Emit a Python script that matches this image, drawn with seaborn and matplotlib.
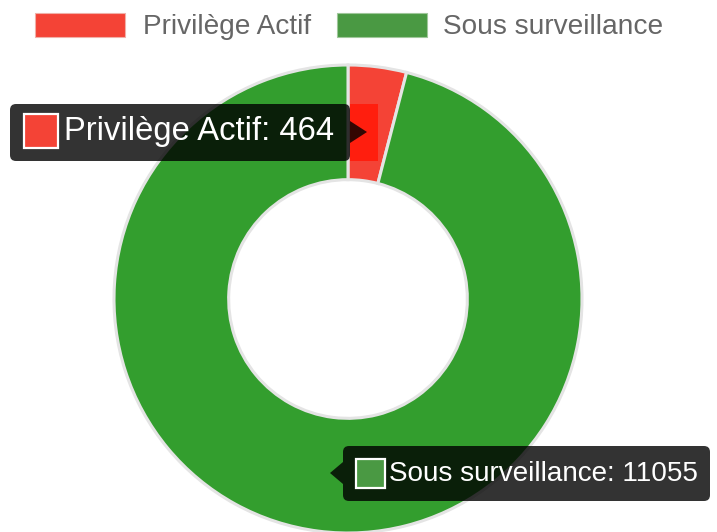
import matplotlib
matplotlib.use("Agg")
import matplotlib.pyplot as plt
import seaborn as sns
from matplotlib.patches import FancyBboxPatch, Rectangle, Polygon

# données du graphique
labels = ["Privilège Actif", "Sous surveillance"]
values = [464, 11055]
slice_colors = ["#f44336", "#339e2e"]
legend_colors = ["#f44336", "#4a9943"]

sns.set_theme(style="white")
plt.rcParams['font.family'] = ['Liberation Sans', 'DejaVu Sans']

W, H = 717, 532
fig = plt.figure(figsize=(W / 100, H / 100), dpi=100)
ax = fig.add_axes([0, 0, 1, 1])

def py(y):
    # pixel (haut -> bas) vers coordonnées des données
    return H - y

# anneau
cx, cy, r = 348, 299, 234
wedges, _ = ax.pie(
    values, colors=slice_colors, startangle=90, counterclock=False,
    center=(cx, py(cy)), radius=r, frame=True,
    wedgeprops=dict(width=r * 0.49, edgecolor='#e4e4e4', linewidth=2.2),
)
ax.set_xlim(0, W)
ax.set_ylim(0, H)
ax.axis('off')

# partie rouge vive visible à droite de l'infobulle (petit axe découpé)
bx0, by0, bx1, by1 = 350, 104, 378, 161
ax_hi = fig.add_axes([bx0 / W, py(by1) / H, (bx1 - bx0) / W, (by1 - by0) / H])
hi, _ = ax_hi.pie(values, colors=['#ff1e0e', 'none'], startangle=90,
                  counterclock=False, center=(cx, py(cy)), radius=r - 1.5,
                  frame=True, wedgeprops=dict(width=r * 0.45, linewidth=0))
for w in hi:
    w.set_clip_on(True)
ax_hi.set_xlim(bx0, bx1)
ax_hi.set_ylim(py(by1), py(by0))
ax_hi.axis('off')

# légende en haut
for x_sw, x_txt, lab, col in zip([35, 337], [143, 443], labels, legend_colors):
    ax.add_patch(Rectangle((x_sw, py(37)), 90, 24, facecolor=col,
                           edgecolor='#f0b0a8' if col == '#f44336' else '#9fc79a', lw=0.8))
    ax.text(x_txt, py(34), lab, fontsize=20.2, color='#666666', va='baseline', ha='left')

# infobulles (dessinées dans une couche au-dessus)
ax_top = fig.add_axes([0, 0, 1, 1])
ax_top.set_xlim(0, W)
ax_top.set_ylim(0, H)
ax_top.axis('off')

def tooltip(x0, y0, x1, y1, arrow, sw, text, tx, ty, col, fs):
    box = FancyBboxPatch((x0, py(y1)), x1 - x0, y1 - y0,
                         boxstyle="round,pad=0,rounding_size=6",
                         facecolor='black', alpha=0.8, edgecolor='none', zorder=5)
    ax_top.add_patch(box)
    ax_top.add_patch(Polygon([(a, py(b)) for a, b in arrow], closed=True,
                             facecolor='black', alpha=0.8, edgecolor='none', zorder=5))
    sx, sy, ss = sw
    ax_top.add_patch(Rectangle((sx, py(sy + ss)), ss, ss, facecolor=col,
                               edgecolor='white', lw=1.6, zorder=6))
    ax_top.text(tx, py(ty), text, fontsize=fs, color='white', va='baseline',
                ha='left', zorder=7)

tooltip(10, 104, 350, 161, [(350, 121), (367, 132), (350, 143)],
        (24, 114, 34), f"{labels[0]}: {values[0]}", 64, 140, legend_colors[0], 23.6)
tooltip(343, 446, 710, 501, [(343, 462), (330, 473), (343, 484)],
        (356, 459, 29), f"{labels[1]}: {values[1]}", 389, 481, legend_colors[1], 20.1)

fig.savefig("out.png", dpi=100)
